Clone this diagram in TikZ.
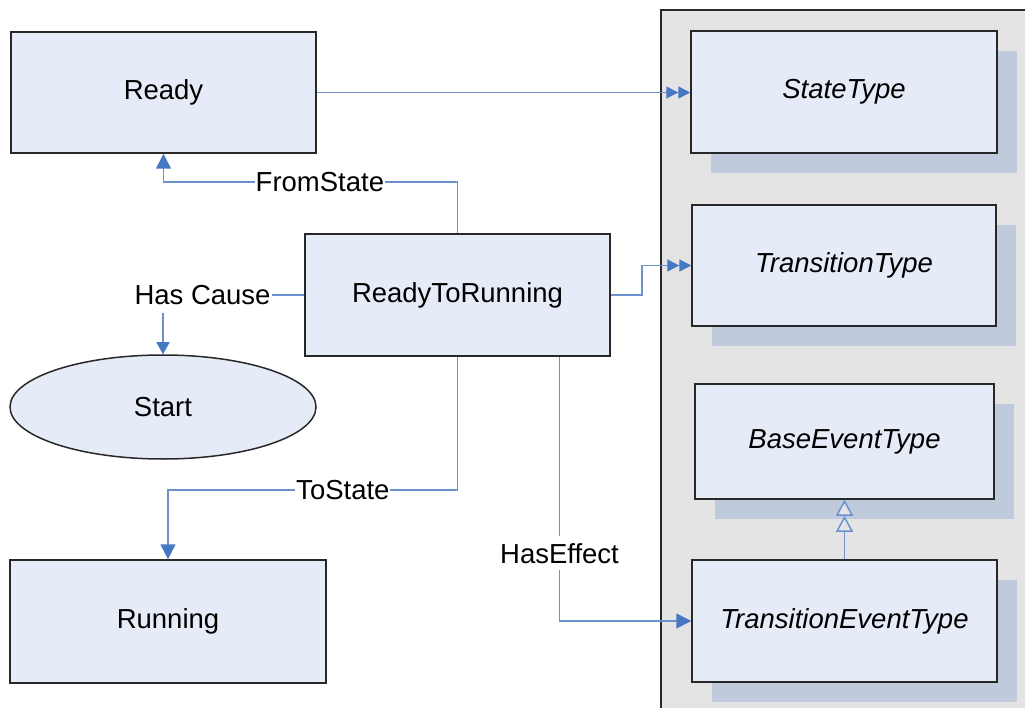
\documentclass[tikz,border=0pt]{standalone}
\usepackage{fontspec}
\setmainfont{Liberation Sans}
\usetikzlibrary{arrows.meta,shadows,shapes.geometric}
\definecolor{boxc}{RGB}{230,236,247}
\definecolor{shadc}{RGB}{192,202,221}
\definecolor{panelc}{RGB}{228,228,228}
\definecolor{linec}{RGB}{108,146,205}
\definecolor{tipc}{RGB}{70,120,196}
\definecolor{borderc}{RGB}{40,40,40}
\tikzset{
  txt/.style={font=\fontsize{27.5pt}{31pt}\selectfont},
  box/.style={txt,draw=borderc,line width=1.5pt,fill=boxc,rectangle,inner sep=0pt},
  typebox/.style={box,font=\fontsize{27.5pt}{31pt}\selectfont\itshape,
    general shadow={shadow xshift=20pt,shadow yshift=-20pt,fill=shadc}},
  conn/.style={draw=linec,line width=1.5pt},
  lbl/.style={txt,fill=white,inner xsep=1pt,inner ysep=8pt},
  tipA/.style={-{Triangle[length=15pt,width=15pt,color=tipc]}},
  tipS/.style={-{Triangle[length=12pt,width=13pt,color=tipc]}},
  tipD/.style={-{Triangle[length=12pt,width=12pt,color=tipc]Triangle[length=12pt,width=12pt,color=tipc]}},
  tipI/.style={-{Triangle[open,length=16pt,width=17pt,color=linec,fill=panelc]Triangle[open,length=16pt,width=17pt,color=linec,fill=panelc]}},
}
\begin{document}
\begin{tikzpicture}[x=1pt,y=-1pt]
\useasboundingbox (0,0) rectangle (1025,708);
% panel
\fill[panelc] (661,10) rectangle (1025,708);
\draw[borderc,line width=1.5pt] (661,708) -- (661,10) -- (1025,10);
% type boxes
\node[typebox,minimum width=306pt,minimum height=122pt] (st) at (844,92) {StateType};
\node[typebox,minimum width=304pt,minimum height=121pt] (tt) at (844,265.5) {TransitionType};
\node[typebox,minimum width=299pt,minimum height=115pt] (bet) at (844.5,441.5) {BaseEventType};
\node[typebox,minimum width=305pt,minimum height=122pt] (tet) at (844.5,621) {TransitionEventType};
% instance boxes
\node[box,minimum width=305pt,minimum height=121pt] (ready) at (163.5,92.5) {Ready};
\node[box,minimum width=305pt,minimum height=122pt] (rtr) at (457.5,295) {ReadyToRunning};
\node[box,minimum width=316pt,minimum height=123pt] (running) at (168,621.5) {Running};
\node[txt,draw=borderc,line width=1.5pt,fill=boxc,ellipse,inner sep=0pt,minimum width=306pt,minimum height=104pt] (start) at (163,407) {Start};
% connectors
\draw[conn,tipD] (ready.east) -- (ready.east -| st.west);
\draw[conn,tipD] (rtr.east) -- ++(31,0) |- (tt.west);
\draw[conn,tipA] (rtr.north) -- ++(0,-51) -| node[lbl,pos=0.234]{FromState} (ready.south);
\draw[conn,tipS] (rtr.west) -| node[lbl,pos=0.36]{Has Cause} (start.north);
\draw[conn,tipA] (rtr.south) -- ++(0,133) -| node[lbl,pos=0.198]{ToState} (running.north);
\draw[conn,tipA] ([xshift=102pt]rtr.south) |- node[lbl,pos=0.372,inner ysep=7pt]{HasEffect} (tet.west);
\draw[conn,tipI] (tet.north) -- (bet.south);
\end{tikzpicture}
\end{document}
